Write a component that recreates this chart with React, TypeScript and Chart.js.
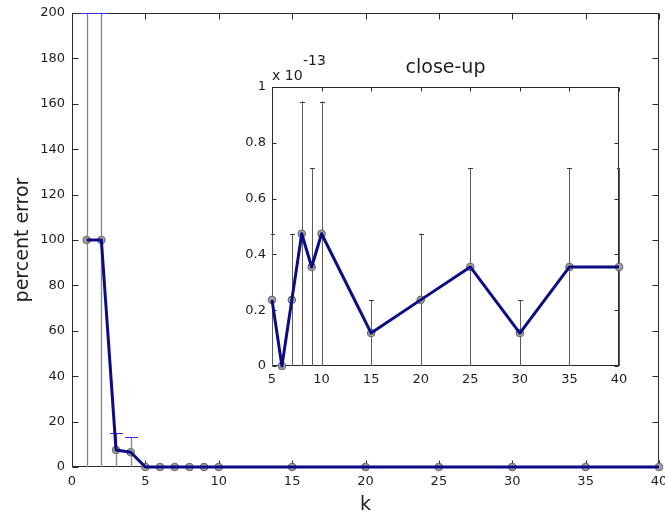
import React, { useEffect, useRef } from "react";
import { Chart, registerables } from "chart.js";
Chart.register(...registerables);

// ---- data ----
const kValues = [1, 2, 3, 4, 5, 6, 7, 8, 9, 10, 15, 20, 25, 30, 35, 40];
const percentError = [100, 100, 7.5, 6.5, 2.37e-14, 0, 2.37e-14, 4.74e-14, 3.55e-14, 4.74e-14, 1.18e-14, 2.37e-14, 3.55e-14, 1.18e-14, 3.55e-14, 3.55e-14];
const percentErrorStd = [100, 100, 7.5, 6.5, 2.37e-14, 0, 2.37e-14, 4.74e-14, 3.55e-14, 4.74e-14, 1.18e-14, 2.37e-14, 3.55e-14, 1.18e-14, 3.55e-14, 3.55e-14];
const mainXTicks = [0, 5, 10, 15, 20, 25, 30, 35, 40];
const mainYTicks = [0, 20, 40, 60, 80, 100, 120, 140, 160, 180, 200];

// close-up values in units of 1e-13
const closeUpK = [5, 6, 7, 8, 9, 10, 15, 20, 25, 30, 35, 40];
const closeUpError = [0.237, 0, 0.237, 0.474, 0.355, 0.474, 0.118, 0.237, 0.355, 0.118, 0.355, 0.355];
const closeUpStd = [0.237, 0, 0.237, 0.474, 0.355, 0.474, 0.118, 0.237, 0.355, 0.118, 0.355, 0.355];
const insetXTicks = [5, 10, 15, 20, 25, 30, 35, 40];
const insetYTicks = [0, 0.2, 0.4, 0.6, 0.8, 1];

const FONT = "'DejaVu Sans', sans-serif";
const NAVY = "#0b0b86";
const TEXT = "#1e1e1e";

function boxPlugin(xTicks: number[], yTicks: number[], len: number) {
  return {
    id: "boxTicks",
    beforeDatasetsDraw(chart: any) {
      const { ctx, chartArea: a, scales } = chart;
      const x = scales.x, y = scales.y;
      const L = Math.round(a.left) + 0.5, R = Math.round(a.right) - 0.5;
      const T = Math.round(a.top) + 0.5, B = Math.round(a.bottom) - 0.5;
      ctx.save();
      ctx.strokeStyle = "#2a2a2a";
      ctx.lineWidth = 1;
      ctx.strokeRect(L, T, R - L, B - T);
      ctx.beginPath();
      xTicks.forEach((v) => {
        const p = Math.round(x.getPixelForValue(v)) + 0.5;
        ctx.moveTo(p, B); ctx.lineTo(p, B - len);
        ctx.moveTo(p, T); ctx.lineTo(p, T + len);
      });
      yTicks.forEach((v) => {
        const p = Math.round(y.getPixelForValue(v)) + 0.5;
        ctx.moveTo(L, p); ctx.lineTo(L + len, p);
        ctx.moveTo(R, p); ctx.lineTo(R - len, p);
      });
      ctx.stroke();
      ctx.restore();
    },
  };
}

function errorBarPlugin(xs: number[], ys: number[], errs: number[], capHalf: number, stemColor: string, capColor: string, stemWidth: number) {
  return {
    id: "errorBars",
    beforeDatasetsDraw(chart: any) {
      const { ctx, chartArea: a, scales } = chart;
      const x = scales.x, y = scales.y;
      ctx.save();
      ctx.beginPath();
      ctx.rect(a.left - 1, a.top - 1, a.right - a.left + 2, a.bottom - a.top + 2);
      ctx.clip();
      xs.forEach((k, i) => {
        const e = errs[i];
        const px = Math.round(x.getPixelForValue(k)) + 0.5;
        const top = y.getPixelForValue(ys[i] + e);
        const bot = y.getPixelForValue(Math.max(ys[i] - e, y.min));
        if (Math.abs(bot - top) < 1) return;
        ctx.strokeStyle = stemColor;
        ctx.lineWidth = stemWidth;
        ctx.beginPath();
        ctx.moveTo(px, bot); ctx.lineTo(px, top);
        ctx.stroke();
        ctx.strokeStyle = capColor;
        ctx.lineWidth = 1;
        ctx.beginPath();
        const tt = Math.round(top) + 0.5;
        ctx.moveTo(px - capHalf, tt); ctx.lineTo(px + capHalf, tt);
        ctx.stroke();
      });
      ctx.restore();
    },
  };
}

const insetTextPlugin = {
  id: "insetText",
  afterDraw(chart: any) {
    const { ctx, chartArea: a } = chart;
    ctx.save();
    ctx.fillStyle = TEXT;
    ctx.textBaseline = "middle";
    ctx.textAlign = "center";
    ctx.font = `19px ${FONT}`;
    ctx.fillText("close-up", (a.left + a.right) / 2, a.top - 19);
    ctx.textAlign = "left";
    ctx.font = `14px ${FONT}`;
    ctx.fillText("x 10", a.left, a.top - 11);
    ctx.fillText("-13", a.left + 31, a.top - 26);
    ctx.restore();
  },
};

function makeScales(xMin: number, xMax: number, xTicks: number[], yMin: number, yMax: number, yTicks: number[], yW: number, xH: number, pad: number, xTitle?: string, yTitle?: string) {
  return {
    x: {
      type: "linear",
      min: xMin,
      max: xMax,
      grid: { display: false, drawTicks: false },
      border: { display: false },
      afterBuildTicks: (s: any) => { s.ticks = xTicks.map((v) => ({ value: v })); },
      afterFit: (s: any) => { s.height = xH; s.paddingLeft = 0; s.paddingRight = 0; },
      ticks: { padding: pad, color: TEXT, font: { family: FONT, size: 13 }, maxRotation: 0, autoSkip: false, callback: (v: any) => String(v) },
      title: xTitle ? { display: true, text: xTitle, color: TEXT, font: { family: FONT, size: 19 }, padding: { top: 0, bottom: 1 } } : { display: false },
    },
    y: {
      type: "linear",
      min: yMin,
      max: yMax,
      grid: { display: false, drawTicks: false },
      border: { display: false },
      afterBuildTicks: (s: any) => { s.ticks = yTicks.map((v) => ({ value: v })); },
      afterFit: (s: any) => { s.width = yW; s.paddingTop = 0; s.paddingBottom = 0; },
      ticks: { padding: pad, color: TEXT, font: { family: FONT, size: 13 }, autoSkip: false, callback: (v: any) => String(v) },
      title: yTitle ? { display: true, text: yTitle, color: TEXT, font: { family: FONT, size: 19 }, padding: { top: 12, bottom: 0 } } : { display: false },
    },
  };
}

function datasets(xs: number[], ys: number[]) {
  const pts = xs.map((k, i) => ({ x: k, y: ys[i] }));
  return [
    {
      data: pts,
      borderColor: NAVY,
      borderWidth: 3,
      borderJoinStyle: "round",
      pointRadius: 0,
      showLine: true,
      clip: false,
      order: 0,
    },
    {
      data: pts,
      showLine: false,
      pointRadius: 3.8,
      pointBackgroundColor: "#a3a3a3",
      pointBorderColor: "#636363",
      pointBorderWidth: 1,
      clip: false,
      order: 1,
    },
  ];
}

export default function App() {
  const mainRef = useRef<HTMLCanvasElement>(null);
  const insetRef = useRef<HTMLCanvasElement>(null);

  useEffect(() => {
    const main = new Chart(mainRef.current as HTMLCanvasElement, {
      type: "scatter",
      data: { datasets: datasets(kValues, percentError) as any },
      options: {
        responsive: false,
        animation: false,
        events: [],
        layout: { padding: { top: 13, right: 6, left: 0, bottom: 0 } },
        plugins: { legend: { display: false }, tooltip: { enabled: false } },
        scales: makeScales(0, 40, mainXTicks, 0, 200, mainYTicks, 72, 50, 7, "k", "percent error") as any,
      },
      plugins: [
        boxPlugin(mainXTicks, mainYTicks, 6),
        errorBarPlugin(kValues, percentError, percentErrorStd, 6.5, "#858585", "#2f2fff", 1.3),
      ],
    });
    const inset = new Chart(insetRef.current as HTMLCanvasElement, {
      type: "scatter",
      data: { datasets: datasets(closeUpK, closeUpError) as any },
      options: {
        responsive: false,
        animation: false,
        events: [],
        layout: { padding: { top: 42, right: 11, left: 0, bottom: 0 } },
        plugins: { legend: { display: false }, tooltip: { enabled: false } },
        scales: makeScales(5, 40, insetXTicks, 0, 1, insetYTicks, 42, 24, 6) as any,
      },
      plugins: [
        boxPlugin(insetXTicks, insetYTicks, 4),
        errorBarPlugin(closeUpK, closeUpError, closeUpStd, 2.5, "#5a5a5a", "#3a3a3a", 1),
        insetTextPlugin,
      ],
    });
    return () => {
      main.destroy();
      inset.destroy();
    };
  }, []);

  return (
    <div style={{ position: "absolute", left: 0, top: 0, width: 665, height: 517, background: "#fff" }}>
      <canvas ref={mainRef} width={665} height={517} style={{ position: "absolute", left: 0, top: 0 }} />
      <canvas ref={insetRef} width={400} height={345} style={{ position: "absolute", left: 230, top: 45, background: "#fff" }} />
    </div>
  );
}
